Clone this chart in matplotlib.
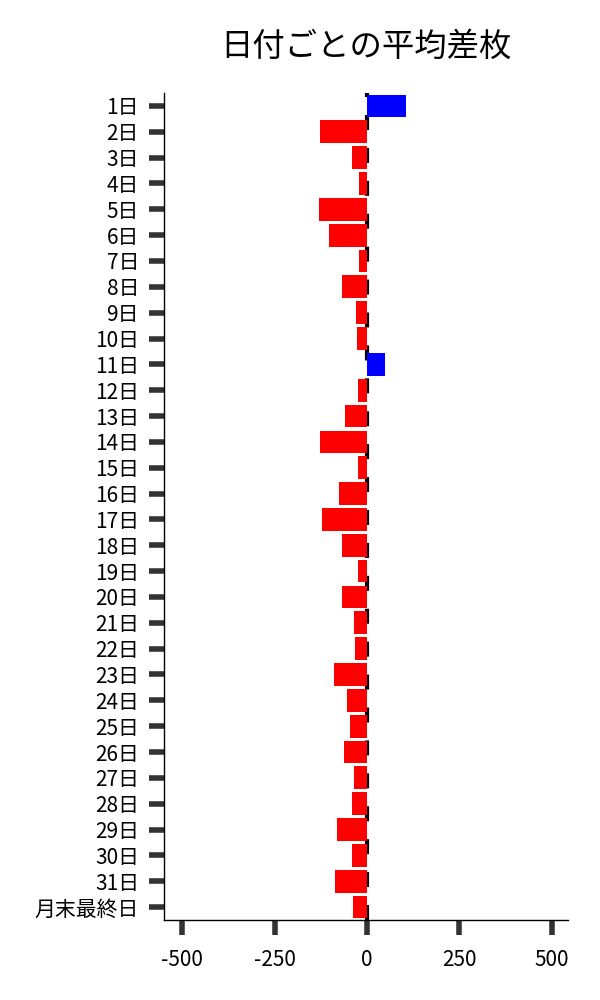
import numpy as np
import matplotlib.pyplot as plt

plt.rcParams['font.family'] = ['Noto Sans CJK JP', 'DejaVu Sans']

days = [f"{i}日" for i in range(1, 32)] + ["月末最終日"]
avg_diff = [107, -127, -40, -22, -130, -103, -21, -67, -29, -26,
            50, -24, -59, -127, -24, -75, -121, -67, -24, -67,
            -35, -32, -89, -54, -46, -62, -35, -40, -81, -40,
            -86, -38]

colors = ["blue" if v > 0 else "red" for v in avg_diff]
y = np.arange(len(days))

fig = plt.figure(figsize=(6, 10), dpi=100)
ax = fig.add_axes([0.273, 0.08, 0.674, 0.827])

ax.barh(y, avg_diff, height=0.88, color=colors, zorder=2)
# zero line, dashed, behind the bars
ax.axvline(0, color="black", linewidth=3, linestyle=(0, (3.6, 4.3)), zorder=1)

ax.set_yticks(y)
ax.set_yticklabels(days, fontsize=15)
ax.set_ylim(len(days) - 0.5, -0.5)
ax.set_xlim(-550, 545)
ax.set_xticks([-500, -250, 0, 250, 500])
ax.set_xticklabels(["-500", "-250", "0", "250", "500"], fontsize=15)

ax.tick_params(axis="both", color="#333333", width=4, length=10.8)
ax.tick_params(axis="y", pad=7)
ax.tick_params(axis="x", pad=10)

for side in ["top", "right"]:
    ax.spines[side].set_visible(False)
ax.spines["left"].set_linewidth(1)
ax.spines["bottom"].set_linewidth(1)

ax.set_title("日付ごとの平均差枚", fontsize=23.3, pad=27)

fig.savefig("out.png", dpi=100)
